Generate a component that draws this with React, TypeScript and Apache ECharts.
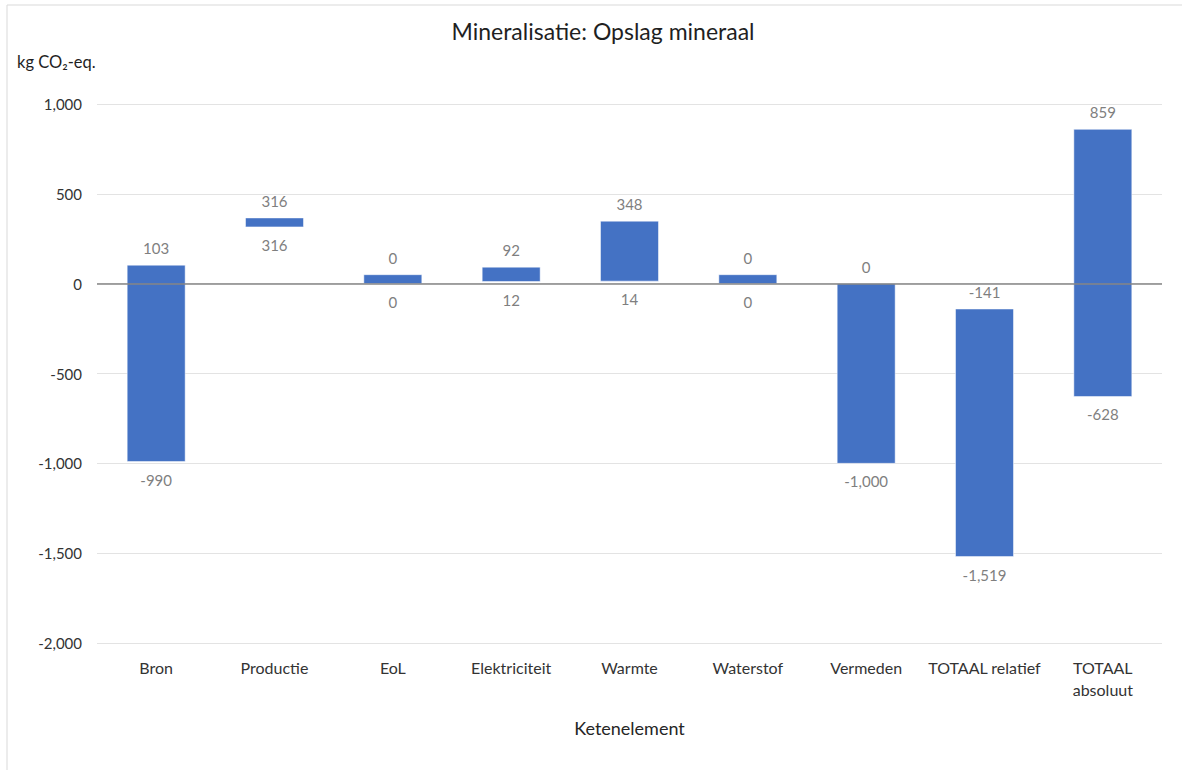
import React, { useEffect, useRef } from "react";
import * as echarts from "echarts";

const categories = [
  "Bron",
  "Productie",
  "EoL",
  "Elektriciteit",
  "Warmte",
  "Waterstof",
  "Vermeden",
  "TOTAAL relatief",
  "TOTAAL\nabsoluut",
];
// visible bar extents (as drawn)
const barLow = [-990, 316, 0, 12, 14, 0, -1000, -1519, -628];
const barHigh = [103, 366, 50, 92, 348, 50, 0, -141, 859];
// data labels
const labelHigh = [103, 316, 0, 92, 348, 0, 0, -141, 859];
const labelLow = [-990, 316, 0, 12, 14, 0, -1000, -1519, -628];

const yMin = -2000;
const yMax = 1000;
const yInterval = 500;

const FONT = "Lato, 'Open Sans', sans-serif";
const fmt = (v: number) => v.toLocaleString("en-US");

export default function App() {
  const ref = useRef<HTMLDivElement>(null);
  useEffect(() => {
    document.body.style.margin = "0";
    const chart = echarts.init(ref.current!, undefined, { renderer: "svg" });
    const data = categories.map((_, i) => [i, barLow[i], barHigh[i], labelLow[i], labelHigh[i]]);
    chart.setOption({
      animation: false,
      backgroundColor: "#ffffff",
      textStyle: { fontFamily: FONT },
      grid: { left: 97, right: 29, top: 104, bottom: 130 },
      graphic: [
        {
          type: "line",
          shape: { x1: 7, y1: 5, x2: 1182, y2: 5 },
          style: { stroke: "#d9d9d9", lineWidth: 1 },
        },
        {
          type: "line",
          shape: { x1: 7, y1: 5, x2: 7, y2: 770 },
          style: { stroke: "#d9d9d9", lineWidth: 1 },
        },
        {
          type: "text",
          x: 603,
          y: 31,
          style: {
            text: "Mineralisatie: Opslag mineraal",
            align: "center",
            verticalAlign: "middle",
            fontSize: 23,
            fontFamily: FONT,
            fill: "#1f1f1f",
          },
        },
        {
          type: "text",
          x: 17,
          y: 62,
          style: {
            text: "kg CO₂-eq.",
            align: "left",
            verticalAlign: "middle",
            fontSize: 16.5,
            fontFamily: FONT,
            fill: "#1f1f1f",
          },
        },
      ],
      xAxis: {
        type: "category",
        data: categories,
        axisLine: { show: false },
        axisTick: { show: false },
        axisLabel: {
          color: "#333333",
          fontSize: 16,
          fontFamily: FONT,
          margin: 13,
          lineHeight: 22,
          interval: 0,
        },
        name: "Ketenelement",
        nameLocation: "middle",
        nameGap: 76,
        nameTextStyle: { color: "#262626", fontSize: 18, fontFamily: FONT },
      },
      yAxis: {
        type: "value",
        min: yMin,
        max: yMax,
        interval: yInterval,
        axisLine: { show: false },
        axisTick: { show: false },
        axisLabel: {
          color: "#333333",
          fontSize: 15,
          fontFamily: FONT,
          margin: 15,
          formatter: (v: number) => fmt(v),
        },
        splitLine: { lineStyle: { color: "#e3e3e3", width: 1 } },
      },
      series: [
        {
          type: "custom",
          data,
          encode: { x: 0, y: [1, 2] },
          renderItem: (params: any, api: any) => {
            const i = api.value(0);
            const lo = api.value(1);
            const hi = api.value(2);
            const lLo = api.value(3);
            const lHi = api.value(4);
            const pTop = api.coord([i, hi]);
            const pBot = api.coord([i, lo]);
            const w = api.size([1, 0])[0] * 0.49;
            return {
              type: "group",
              children: [
                {
                  type: "rect",
                  shape: { x: pTop[0] - w / 2, y: pTop[1], width: w, height: pBot[1] - pTop[1] },
                  style: { fill: "#4472c4", stroke: "#ffffff", lineWidth: 0.5 },
                },
                {
                  type: "text",
                  style: {
                    text: fmt(lHi),
                    x: pTop[0],
                    y: pTop[1] - 17,
                    align: "center",
                    verticalAlign: "middle",
                    fill: "#7f7f7f",
                    fontSize: 15,
                    fontFamily: FONT,
                  },
                },
                {
                  type: "text",
                  style: {
                    text: fmt(lLo),
                    x: pBot[0],
                    y: pBot[1] + 18,
                    align: "center",
                    verticalAlign: "middle",
                    fill: "#7f7f7f",
                    fontSize: 15,
                    fontFamily: FONT,
                  },
                },
              ],
            };
          },
          markLine: {
            silent: true,
            symbol: "none",
            label: { show: false },
            lineStyle: { color: "#868686", width: 1.5, type: "solid" },
            data: [{ yAxis: 0 }],
          },
          z: 3,
        },
      ],
    });
    return () => chart.dispose();
  }, []);
  return (
    <div
      ref={ref}
      style={{ position: "fixed", left: 0, top: 0, width: 1191, height: 773 }}
    />
  );
}
